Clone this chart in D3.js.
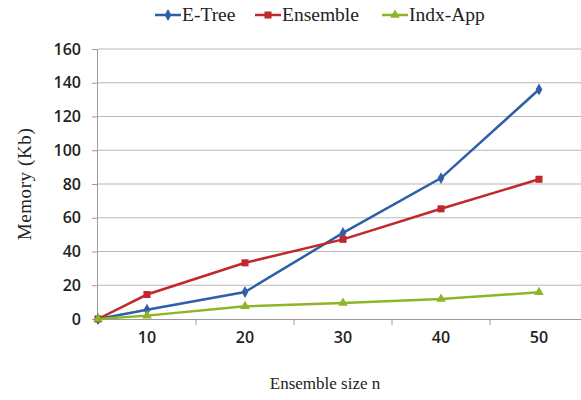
<!DOCTYPE html>
<html><head><meta charset="utf-8">
<script src="https://cdn.jsdelivr.net/npm/d3@7"></script>
<style>body{margin:0;background:#fff}svg{display:block}</style>
</head><body>
<script>
const categories = ["10","20","30","40","50"];
const seriesNames = ["E-Tree","Ensemble","Indx-App"];
const eTree    = [0, 5.5, 16, 51, 83.5, 136];
const ensemble = [0, 14.5, 33.3, 47.2, 65.3, 82.8];
const indxApp  = [0, 2, 7.5, 9.5, 11.8, 15.8];
const yTicks = [0,20,40,60,80,100,120,140,160];
const colors = ["#2f5fa6","#c0282e","#8db526"];
const shapes = [d3.symbolDiamond, d3.symbolSquare, d3.symbolTriangle];

(function(){
const W=581,H=400;
const svg=d3.select("body").append("svg").attr("width",W).attr("height",H);
const pL=98, pR=588, pT=49, pB=319;
const x=d3.scaleBand().domain(categories).range([pL,pR]);
const y=d3.scaleLinear().domain([0,160]).range([pB,pT]);
// first point (origin) sits on the value axis, others at category centres
const xPos=i=> i===0 ? x.range()[0] : x(categories[i-1])+x.bandwidth()/2;

// gridlines
svg.append("g").selectAll("line").data(yTicks.filter(d=>d>0)).join("line")
  .attr("x1",pL).attr("x2",W).attr("y1",d=>y(d)).attr("y2",d=>y(d))
  .attr("stroke","#b8b8b8").attr("stroke-width",1.2);

const tickFont=g=>g.selectAll("text").attr("font-family","'Open Sans',sans-serif").attr("font-size",16)
  .attr("font-weight","600").attr("fill","#222");

// y axis
const ya=svg.append("g").attr("transform",`translate(${pL},0)`)
  .call(d3.axisLeft(y).tickValues(yTicks).tickSize(6).tickPadding(11));
ya.select(".domain").attr("stroke","#9a9a9a").attr("d",`M-0.5,${pT}V${pB}`);
ya.selectAll(".tick line").attr("stroke","#9a9a9a");
tickFont(ya);

// x axis
const xa=svg.append("g").attr("transform",`translate(0,${pB})`)
  .call(d3.axisBottom(x).tickSize(0).tickPadding(13));
xa.select(".domain").attr("stroke","#9a9a9a").attr("d",`M${pL},0.5H${W}`);
tickFont(xa);
svg.append("g").selectAll("line").data(categories.slice(1)).join("line")
  .attr("x1",d=>x(d)).attr("x2",d=>x(d)).attr("y1",pB).attr("y2",pB+6)
  .attr("stroke","#9a9a9a");

// series
const data=[eTree,ensemble,indxApp];
const line=d3.line().x((d,i)=>xPos(i)).y(d=>y(d));
data.forEach((vals,k)=>{
  svg.append("path").datum(vals).attr("d",line).attr("fill","none")
    .attr("stroke",colors[k]).attr("stroke-width",2.5);
  svg.append("g").selectAll("path").data(vals).join("path")
    .attr("transform",(d,i)=>`translate(${xPos(i)},${y(d)})`)
    .attr("d",d3.symbol().type(shapes[k]).size(k===1?50:40)).attr("fill",colors[k]);
});

// legend
const legX=[155,255,382];
seriesNames.forEach((n,k)=>{
  const g=svg.append("g").attr("transform",`translate(${legX[k]},15)`);
  g.append("line").attr("x1",0).attr("x2",26).attr("stroke",colors[k]).attr("stroke-width",2.5);
  g.append("path").attr("transform","translate(13,0)")
    .attr("d",d3.symbol().type(shapes[k]).size(k===1?50:40)).attr("fill",colors[k]);
  g.append("text").attr("x",27).attr("y",6).text(n)
    .attr("font-family","'Liberation Serif',serif").attr("font-size",19.5).attr("fill","#222");
});

// axis titles
svg.append("text").attr("transform",`translate(31,184) rotate(-90)`)
  .attr("text-anchor","middle").text("Memory (Kb)").attr("letter-spacing",0.6)
  .attr("font-family","'Liberation Serif',serif").attr("font-size",19).attr("fill","#222");
svg.append("text").attr("x",325).attr("y",389).attr("text-anchor","middle").text("Ensemble size n")
  .attr("font-family","'Liberation Serif',serif").attr("font-size",17).attr("fill","#222");
})();
</script>
</body></html>
